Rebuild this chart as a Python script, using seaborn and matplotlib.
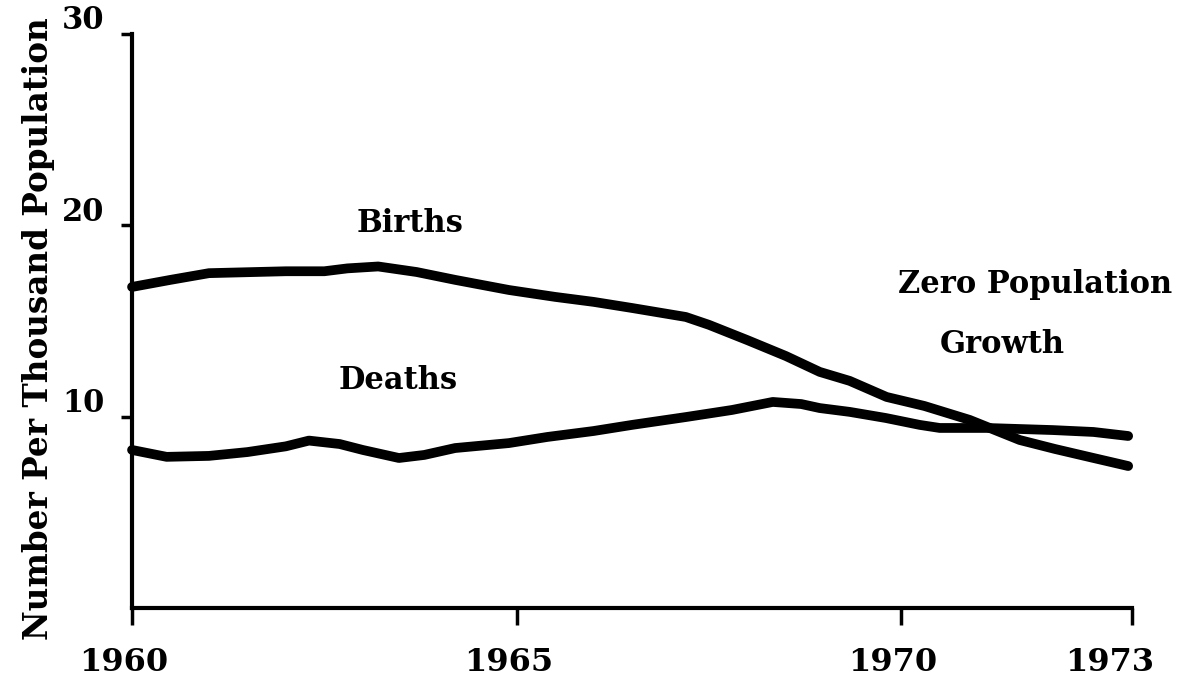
import matplotlib
matplotlib.use('Agg')
import matplotlib.pyplot as plt
import matplotlib.transforms as mtrans
import seaborn as sns
import pandas as pd

# values (per thousand population)
birth_years = [1960.0, 1960.5, 1961.0, 1962.0, 1962.5, 1962.8, 1963.2, 1963.7, 1964.2,
               1964.9, 1965.5, 1966.0, 1966.5, 1967.2, 1967.5, 1968.0, 1968.5, 1968.94,
               1969.33, 1969.81, 1970.3, 1970.89, 1971.54, 1972.0, 1972.5, 1972.95]
births = [16.78, 17.15, 17.5, 17.6, 17.6, 17.75, 17.85, 17.56, 17.15,
          16.62, 16.26, 16.0, 15.68, 15.21, 14.8, 14.0, 13.17, 12.34,
          11.87, 11.03, 10.56, 9.83, 8.78, 8.31, 7.84, 7.42]

death_years = [1960.0, 1960.45, 1961.0, 1961.5, 1962.0, 1962.3, 1962.7, 1963.0, 1963.47,
               1963.8, 1964.2, 1964.9, 1965.4, 1966.0, 1966.5, 1967.2, 1967.8, 1968.33,
               1968.7, 1968.94, 1969.33, 1969.8, 1970.24, 1970.5, 1971.11, 1971.97,
               1972.5, 1972.95]
deaths = [8.26, 7.9, 7.95, 8.15, 8.45, 8.75, 8.57, 8.26, 7.84,
          8.0, 8.36, 8.62, 8.94, 9.25, 9.57, 9.98, 10.35, 10.77,
          10.66, 10.45, 10.25, 9.93, 9.57, 9.41, 9.41, 9.3,
          9.2, 8.99]

x_ticks = [1960, 1965, 1970, 1973]
y_ticks = [10, 20, 30]

df_births = pd.DataFrame({'Year': birth_years, 'Rate': births})
df_deaths = pd.DataFrame({'Year': death_years, 'Rate': deaths})

sns.set_style('ticks')
plt.rcParams['font.family'] = ['DejaVu Serif']
plt.rcParams['font.weight'] = 'bold'
plt.rcParams['text.color'] = 'black'
plt.rcParams['axes.labelcolor'] = 'black'
plt.rcParams['xtick.color'] = 'black'
plt.rcParams['ytick.color'] = 'black'

fig = plt.figure(figsize=(11.97, 6.84), dpi=100)
ax = fig.add_axes([0.1103, 0.1111, 0.8354, 0.8392])

for d in (df_births, df_deaths):
    sns.lineplot(data=d, x='Year', y='Rate', ax=ax, color='black', lw=7,
                 estimator=None, sort=False, solid_capstyle='round',
                 solid_joinstyle='round', clip_on=False)

ax.set_xlim(1960, 1973)
ax.set_ylim(0, 30)
ax.set_xticks(x_ticks)
ax.set_yticks(y_ticks)
ax.tick_params(axis='x', length=12, width=2.5, pad=16, labelsize=23)
ax.tick_params(axis='y', length=8, width=2.5, pad=12, labelsize=22)
sns.despine(ax=ax)
for s in ('left', 'bottom'):
    ax.spines[s].set_linewidth(3)
    ax.spines[s].set_color('black')

# the y labels sit a bit above their ticks in the original
offset = mtrans.ScaledTranslation(0, 12 / 72, fig.dpi_scale_trans)
for lab in ax.get_yticklabels():
    lab.set_transform(lab.get_transform() + offset)

# x labels are drawn a little left of their ticks, 1973 the most
for lab, dx in zip(ax.get_xticklabels(), [-6, -6, -6, -16]):
    lab.set_transform(lab.get_transform() +
                      mtrans.ScaledTranslation(dx / 72, 0, fig.dpi_scale_trans))

ax.set_xlabel('')
ax.set_ylabel('Number Per Thousand Population', fontsize=23.5, fontweight='bold')
ax.yaxis.set_label_coords(-0.077, 0.486)

kw = dict(fontsize=22, fontweight='bold', ha='center', va='center')
ax.text(1963.62, 20.1, 'Births', **kw)
ax.text(1963.46, 11.9, 'Deaths', **kw)
ax.text(1971.74, 16.93, 'Zero Population', **kw)
ax.text(1971.31, 13.75, 'Growth', **kw)

fig.savefig('out.png', dpi=100)
